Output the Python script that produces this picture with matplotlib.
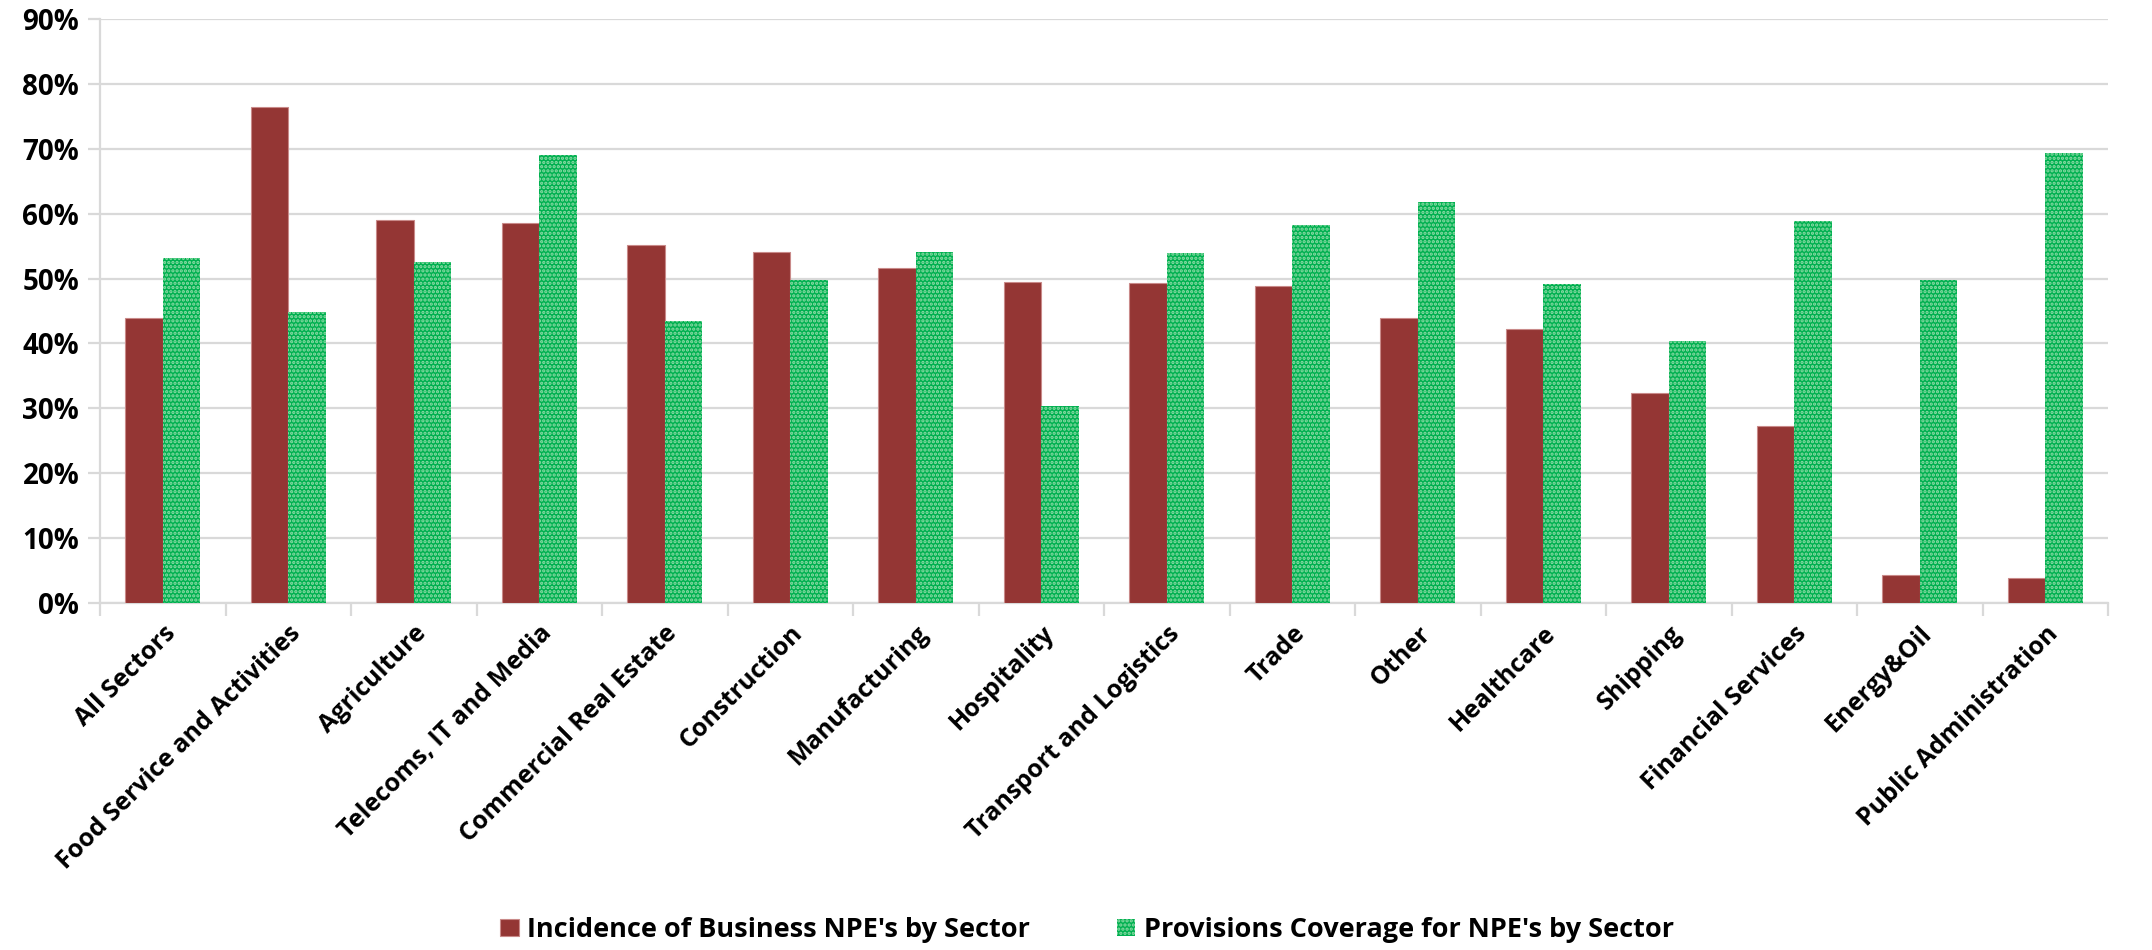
import matplotlib
matplotlib.use("Agg")
import matplotlib.pyplot as plt
import numpy as np
from matplotlib.ticker import FuncFormatter, FixedLocator

# NPE incidence vs provisions coverage by sector (shares, %)
sectors = ["All Sectors", "Food Service and Activities", "Agriculture",
           "Telecoms, IT and Media", "Commercial Real Estate", "Construction",
           "Manufacturing", "Hospitality", "Transport and Logistics", "Trade",
           "Other", "Healthcare", "Shipping", "Financial Services",
           "Energy&Oil", "Public Administration"]
incidence = [43.9, 76.4, 59.0, 58.5, 55.2, 54.1, 51.7, 49.4,
             49.3, 48.8, 43.9, 42.2, 32.4, 27.3, 4.3, 3.9]
coverage = [53.2, 44.9, 52.5, 69.1, 43.4, 49.7, 54.1, 30.3,
            53.9, 58.3, 61.8, 49.2, 40.3, 58.9, 49.7, 69.3]

RED = "#943634"
GREEN = "#00b050"
GRID = "#d9d9d9"

plt.rcParams["font.family"] = ["Open Sans", "DejaVu Sans"]
plt.rcParams["font.weight"] = "bold"
plt.rcParams["hatch.linewidth"] = 1.6

fig = plt.figure(figsize=(21.52, 9.5), dpi=100)
ax = fig.add_axes([0.0465, 0.3653, 0.9331, 0.6147])

x = np.arange(len(sectors))
w = 0.3
ax.bar(x - w / 2, incidence, w, color=RED, edgecolor="#c98a89", linewidth=0.8,
       label="Incidence of Business NPE's by Sector", zorder=3)
ax.bar(x + w / 2, coverage, w, color=GREEN, edgecolor="#8fdca8", linewidth=0.0,
       hatch="....", label="Provisions Coverage for NPE's by Sector", zorder=3)

ax.set_xlim(-0.5, len(sectors) - 0.5)
ax.set_ylim(0, 90)
ax.set_yticks(np.arange(0, 91, 10))
ax.yaxis.set_major_formatter(FuncFormatter(lambda v, p: f"{v:.0f}%"))
ax.grid(axis="y", color=GRID, linewidth=1.6, zorder=0)

ax.set_xticks(x)
ax.set_xticklabels(sectors, rotation=45, ha="right", rotation_mode="anchor",
                   fontsize=18, fontweight="bold")
ax.tick_params(axis="x", length=0, pad=13)
ax.xaxis.set_minor_locator(FixedLocator(np.arange(-0.5, len(sectors), 1.0)))
ax.tick_params(axis="x", which="minor", length=9, width=1.6, color=GRID)
ax.tick_params(axis="y", length=9, width=1.6, color=GRID, labelsize=20, pad=6)
for t in ax.get_yticklabels():
    t.set_fontweight("bold")

for side in ["top", "right"]:
    ax.spines[side].set_visible(False)
for side in ["left", "bottom"]:
    ax.spines[side].set_color(GRID)
    ax.spines[side].set_linewidth(1.6)

leg = fig.legend(loc="center", bbox_to_anchor=(0.505, 0.021), ncol=2, frameon=False,
                 handlelength=0.7, handleheight=0.62, handletextpad=0.3,
                 columnspacing=3.2,
                 prop={"weight": "bold", "size": 19.5})

fig.savefig("out.png", dpi=100)
